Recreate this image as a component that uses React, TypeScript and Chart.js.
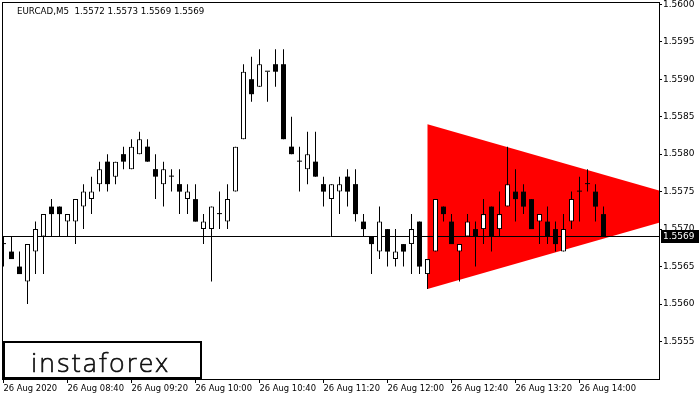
import React, { useEffect, useRef } from "react";
import { Chart, registerables } from "chart.js";

Chart.register(...registerables);

const chartTitle = "EURCAD,M5  1.5572 1.5573 1.5569 1.5569";
const logoText = "instaforex";

const openPrices = [
  1.5568, 1.5567, 1.5565, 1.5563, 1.5567, 1.5569, 1.5573, 1.5573, 1.5571, 1.5571,
  1.5573, 1.5574, 1.5576, 1.5579, 1.5577, 1.5580, 1.5578, 1.5580, 1.5581, 1.5578,
  1.5576, 1.5577, 1.5576, 1.5574, 1.5574, 1.5570, 1.5570, 1.5572, 1.5571, 1.5575,
  1.5582, 1.5590, 1.5589, 1.5591, 1.5592, 1.5592, 1.5581, 1.5579, 1.5578, 1.5579,
  1.5576, 1.5574, 1.5575, 1.5577, 1.5576, 1.5571, 1.5569, 1.5567, 1.5570, 1.5566,
  1.5568, 1.5568, 1.5571, 1.5564, 1.5567, 1.5573, 1.5571, 1.5567, 1.5569, 1.5570,
  1.5570, 1.5573, 1.5570, 1.5573, 1.5575, 1.5575, 1.5574, 1.5571, 1.5571, 1.5570,
  1.5567, 1.5571, 1.5575, 1.5576, 1.5575, 1.5572,
];
const highPrices = [
  1.5569, 1.5569, 1.5567, 1.5568, 1.5571, 1.5572, 1.5574, 1.5573, 1.5572, 1.5574,
  1.5576, 1.5577, 1.5579, 1.5580, 1.5579, 1.5581, 1.5582, 1.5583, 1.5582, 1.5580,
  1.5579, 1.5578, 1.5578, 1.5576, 1.5576, 1.5572, 1.5573, 1.5575, 1.5576, 1.5581,
  1.5592, 1.5593, 1.5594, 1.5591, 1.5594, 1.5594, 1.5585, 1.5581, 1.5583, 1.5583,
  1.5577, 1.5576, 1.5577, 1.5578, 1.5578, 1.5572, 1.5569, 1.5573, 1.5570, 1.5570,
  1.5568, 1.5572, 1.5571, 1.5566, 1.5574, 1.5573, 1.5572, 1.5568, 1.5572, 1.5571,
  1.5574, 1.5573, 1.5575, 1.5581, 1.5578, 1.5576, 1.5574, 1.5572, 1.5573, 1.5571,
  1.5572, 1.5575, 1.5577, 1.5578, 1.5576, 1.5573,
];
const lowPrices = [
  1.5565, 1.5566, 1.5564, 1.5560, 1.5564, 1.5564, 1.5569, 1.5569, 1.5569, 1.5568,
  1.5570, 1.5572, 1.5575, 1.5575, 1.5576, 1.5578, 1.5578, 1.5580, 1.5579, 1.5574,
  1.5573, 1.5575, 1.5572, 1.5572, 1.5571, 1.5568, 1.5563, 1.5570, 1.5570, 1.5575,
  1.5582, 1.5587, 1.5589, 1.5587, 1.5589, 1.5582, 1.5580, 1.5575, 1.5576, 1.5577,
  1.5573, 1.5569, 1.5572, 1.5573, 1.5571, 1.5569, 1.5564, 1.5566, 1.5565, 1.5565,
  1.5565, 1.5564, 1.5564, 1.5562, 1.5567, 1.5571, 1.5568, 1.5563, 1.5569, 1.5565,
  1.5568, 1.5567, 1.5569, 1.5573, 1.5571, 1.5572, 1.5570, 1.5568, 1.5568, 1.5567,
  1.5567, 1.5570, 1.5571, 1.5575, 1.5571, 1.5569,
];
const closePrices = [
  1.5568, 1.5566, 1.5564, 1.5568, 1.5570, 1.5572, 1.5572, 1.5572, 1.5572, 1.5574,
  1.5575, 1.5575, 1.5578, 1.5576, 1.5579, 1.5579, 1.5581, 1.5582, 1.5579, 1.5577,
  1.5578, 1.5577, 1.5575, 1.5575, 1.5571, 1.5571, 1.5573, 1.5572, 1.5574, 1.5581,
  1.5591, 1.5588, 1.5592, 1.5591, 1.5591, 1.5582, 1.5580, 1.5579, 1.5580, 1.5577,
  1.5575, 1.5576, 1.5576, 1.5575, 1.5572, 1.5570, 1.5568, 1.5571, 1.5567, 1.5567,
  1.5567, 1.5570, 1.5565, 1.5566, 1.5574, 1.5572, 1.5568, 1.5568, 1.5571, 1.5569,
  1.5572, 1.5569, 1.5572, 1.5576, 1.5574, 1.5573, 1.5570, 1.5572, 1.5569, 1.5568,
  1.5570, 1.5574, 1.5575, 1.5576, 1.5573, 1.5569,
];

const timeTickIndex = [0, 8, 16, 24, 32, 40, 48, 56, 64, 72];
const timeTickLabels = [
  "26 Aug 2020", "26 Aug 08:40", "26 Aug 09:20", "26 Aug 10:00", "26 Aug 10:40",
  "26 Aug 11:20", "26 Aug 12:00", "26 Aug 12:40", "26 Aug 13:20", "26 Aug 14:00",
];
const priceTicks = [1.5555, 1.556, 1.5565, 1.557, 1.5575, 1.558, 1.5585, 1.559, 1.5595, 1.56];
const currentPrice = 1.5569;

// triangle pattern vertices (bar index, price)
const patternIndex = [53, 89, 53];
const patternPrice = [1.5584, 1.5573, 1.5562];

const X_MIN = -0.1875;
const X_MAX = 81.9375;
const Y_MIN = 1.555;
const Y_MAX = 1.56003;

const FONT = '"DejaVu Sans", Tahoma, sans-serif';

const mtPlugin = {
  id: "mtDecor",
  afterDatasetDraw(chart: any, args: any) {
    if (args.index !== 0) return;
    const { ctx, chartArea: a, scales } = chart;
    const y = Math.floor(scales.y.getPixelForValue(currentPrice)) + 0.5;
    ctx.save();
    ctx.strokeStyle = "#000";
    ctx.lineWidth = 1;
    ctx.beginPath();
    ctx.moveTo(a.left, y);
    ctx.lineTo(a.right, y);
    ctx.stroke();
    ctx.restore();
  },
  afterDraw(chart: any) {
    const { ctx, chartArea: a, scales } = chart;
    ctx.save();
    // frame
    ctx.strokeStyle = "#000";
    ctx.lineWidth = 1;
    ctx.strokeRect(a.left + 0.5, a.top + 0.5, a.right - a.left, a.bottom - a.top);
    // title
    ctx.fillStyle = "#000";
    ctx.font = `8.7px ${FONT}`;
    ctx.textBaseline = "middle";
    ctx.textAlign = "left";
    ctx.fillText(chartTitle, 17, 12);
    // current price label
    const py = Math.floor(scales.y.getPixelForValue(currentPrice)) + 0.5;
    ctx.fillStyle = "#000";
    ctx.fillRect(a.right + 2, Math.round(py - 7), 38, 13);
    ctx.fillStyle = "#fff";
    ctx.font = `9px ${FONT}`;
    ctx.fillText(currentPrice.toFixed(4), a.right + 4, py);
    // logo
    ctx.fillStyle = "#fff";
    ctx.fillRect(3, 341, 199, 38);
    ctx.strokeStyle = "#000";
    ctx.lineWidth = 2;
    ctx.strokeRect(4, 342, 197, 36);
    ctx.fillStyle = "#111";
    ctx.strokeStyle = "#111";
    ctx.lineWidth = 0.7;
    ctx.font = `200 26px "DejaVu Sans ExtraLight", "Noto Sans", sans-serif`;
    (ctx as any).letterSpacing = "2.6px";
    ctx.textAlign = "center";
    ctx.textBaseline = "alphabetic";
    ctx.fillText(logoText, 101, 372);
    ctx.strokeText(logoText, 101, 372);
    ctx.restore();
  },
};

export default function App() {
  const canvasRef = useRef<HTMLCanvasElement | null>(null);

  useEffect(() => {
    const canvas = canvasRef.current;
    if (!canvas) return;
    const idx = openPrices.map((_, i) => i);
    const wickData = idx.map((i) => ({ x: i, y: [lowPrices[i], highPrices[i]] }));
    const bullData = idx
      .filter((i) => closePrices[i] > openPrices[i])
      .map((i) => ({ x: i, y: [openPrices[i], closePrices[i]] }));
    const bearData = idx
      .filter((i) => closePrices[i] <= openPrices[i])
      .map((i) => ({ x: i, y: [closePrices[i], openPrices[i]] }));
    const triangleData = patternIndex.map((x, k) => ({ x, y: patternPrice[k] }));

    const barCommon = {
      type: "bar" as const,
      grouped: false,
      barPercentage: 1,
      categoryPercentage: 1,
      inflateAmount: 0,
    };

    const chart = new Chart(canvas, {
      type: "bar",
      data: {
        datasets: [
          {
            type: "line",
            label: "pattern",
            data: triangleData as any,
            fill: "shape" as any,
            backgroundColor: "#ff0000",
            borderColor: "rgba(0,0,0,0)",
            borderWidth: 0,
            pointRadius: 0,
            tension: 0,
            order: 10,
          } as any,
          {
            ...barCommon,
            label: "wick",
            data: wickData as any,
            backgroundColor: "#000",
            borderWidth: 0,
            barThickness: 1,
            order: 5,
          } as any,
          {
            ...barCommon,
            label: "bull",
            data: bullData as any,
            backgroundColor: "#fff",
            borderColor: "#000",
            borderWidth: 1,
            borderSkipped: false,
            barThickness: 5,
            order: 1,
          } as any,
          {
            ...barCommon,
            label: "bear",
            data: bearData as any,
            backgroundColor: "#000",
            borderWidth: 0,
            minBarLength: 1,
            barThickness: 5,
            order: 1,
          } as any,
        ],
      },
      options: {
        responsive: false,
        animation: false,
        devicePixelRatio: 1,
        layout: { padding: { left: 2, top: 2, right: 0, bottom: 0 } },
        plugins: {
          legend: { display: false },
          tooltip: { enabled: false },
        },
        scales: {
          x: {
            type: "linear",
            min: X_MIN,
            max: X_MAX,
            offset: false,
            stacked: false,
            grid: { drawOnChartArea: false, drawTicks: true, tickLength: 4, color: "#000", offset: false },
            border: { display: false },
            ticks: {
              autoSkip: false,
              maxRotation: 0,
              minRotation: 0,
              align: "start",
              padding: 1,
              color: "#000",
              font: { family: FONT, size: 8.4 },
              callback: (_v: any, i: number) => timeTickLabels[i] ?? "",
            },
            afterBuildTicks: (s: any) => {
              s.ticks = timeTickIndex.map((v) => ({ value: v }));
            },
            afterFit: (s: any) => {
              s.height = 21;
              s.paddingLeft = 0;
              s.paddingRight = 0;
            },
          } as any,
          y: {
            type: "linear",
            position: "right",
            min: Y_MIN,
            max: Y_MAX,
            beginAtZero: false,
            stacked: false,
            grid: { drawOnChartArea: false, drawTicks: true, tickLength: 3, color: "#000" },
            border: { display: false },
            ticks: {
              padding: 1,
              color: "#000",
              font: { family: FONT, size: 9 },
              callback: (v: any) => Number(v).toFixed(4),
            },
            afterBuildTicks: (s: any) => {
              s.ticks = priceTicks.map((v) => ({ value: v }));
            },
            afterFit: (s: any) => {
              s.width = 41;
              s.paddingTop = 0;
              s.paddingBottom = 0;
            },
          } as any,
        },
      },
      plugins: [mtPlugin],
    });

    return () => chart.destroy();
  }, []);

  return (
    <div style={{ position: "fixed", left: 0, top: 0, width: 700, height: 400, background: "#fff" }}>
      <canvas ref={canvasRef} width={700} height={400} style={{ display: "block", width: 700, height: 400 }} />
    </div>
  );
}
